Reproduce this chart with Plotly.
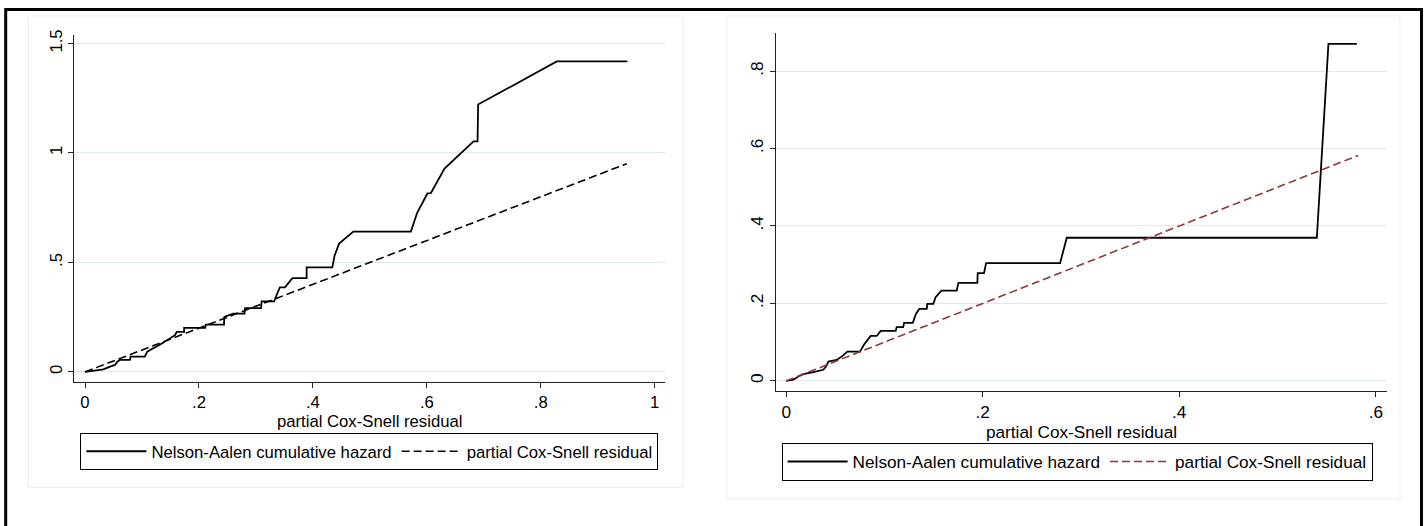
import plotly.graph_objects as go

W, H = 1428, 526

# ---- data ----
na_x_left = [0, 0.0176, 0.0322, 0.0439, 0.0527, 0.0567, 0.0614, 0.079, 0.080, 0.105, 0.109, 0.117,
             0.132, 0.158, 0.161, 0.174, 0.174, 0.211, 0.212, 0.244, 0.2445, 0.260, 0.280, 0.281,
             0.309, 0.310, 0.332, 0.336, 0.342, 0.351, 0.364, 0.389, 0.389, 0.434, 0.438, 0.446,
             0.471, 0.572, 0.583, 0.601, 0.607, 0.631, 0.682, 0.689, 0.690, 0.828, 0.952]
na_y_left = [0, 0.005, 0.012, 0.024, 0.032, 0.047, 0.055, 0.055, 0.070, 0.070, 0.092, 0.104,
             0.125, 0.168, 0.183, 0.183, 0.201, 0.201, 0.216, 0.216, 0.251, 0.266, 0.266, 0.291,
             0.291, 0.322, 0.322, 0.349, 0.386, 0.386, 0.428, 0.428, 0.477, 0.477, 0.531, 0.586,
             0.641, 0.641, 0.727, 0.815, 0.816, 0.929, 1.053, 1.053, 1.221, 1.418, 1.418]
csr_left = [0, 0.951]

na_x_right = [0, 0.0073, 0.0123, 0.0174, 0.0276, 0.0378, 0.0405, 0.043, 0.0514, 0.0565, 0.0622,
              0.0751, 0.0792, 0.086, 0.0921, 0.0962, 0.1114, 0.1124, 0.119, 0.120, 0.1288, 0.132,
              0.1355, 0.143, 0.1436, 0.1497, 0.152, 0.158, 0.1735, 0.1752, 0.1945, 0.1949, 0.2013,
              0.2034, 0.2787, 0.2855, 0.540, 0.5518, 0.5807]
na_y_right = [0, 0.003, 0.0115, 0.0174, 0.0225, 0.0286, 0.037, 0.050, 0.054, 0.0627, 0.0754,
              0.0754, 0.094, 0.116, 0.116, 0.129, 0.129, 0.139, 0.139, 0.150, 0.150, 0.173,
              0.186, 0.186, 0.199, 0.199, 0.216, 0.233, 0.233, 0.253, 0.253, 0.278, 0.278,
              0.304, 0.304, 0.3696, 0.3696, 0.870, 0.870]
csr_right = [0, 0.582]

x_ticks_left = [0, 0.2, 0.4, 0.6, 0.8, 1]
x_text_left = ["0", ".2", ".4", ".6", ".8", "1"]
y_ticks_left = [0, 0.5, 1, 1.5]
y_text_left = ["0", ".5", "1", "1.5"]
x_ticks_right = [0, 0.2, 0.4, 0.6]
x_text_right = ["0", ".2", ".4", ".6"]
y_ticks_right = [0, 0.2, 0.4, 0.6, 0.8]
y_text_right = ["0", ".2", ".4", ".6", ".8"]

name_na = "Nelson-Aalen cumulative hazard"
name_csr = "partial Cox-Snell residual"

FONT = "Arial, Liberation Sans, sans-serif"
MAROON = "#90353B"
GRID = "#dde8ed"
AXC = "#222222"
FS_L = 16.7
FS_R = 17.2


def px(x):
    return x / W


def py(y):
    return 1 - y / H


fig = go.Figure()
fig.add_trace(go.Scatter(x=na_x_left, y=na_y_left, mode="lines", name=name_na,
                         line=dict(color="black", width=1.8), xaxis="x", yaxis="y", legend="legend"))
fig.add_trace(go.Scatter(x=csr_left, y=csr_left, mode="lines", name=name_csr,
                         line=dict(color="black", width=1.6, dash="8px,4px"), xaxis="x", yaxis="y",
                         legend="legend"))
fig.add_trace(go.Scatter(x=na_x_right, y=na_y_right, mode="lines", name=name_na,
                         line=dict(color="black", width=1.8), xaxis="x2", yaxis="y2", legend="legend2"))
fig.add_trace(go.Scatter(x=csr_right, y=csr_right, mode="lines", name=name_csr,
                         line=dict(color=MAROON, width=1.6, dash="8px,4px"), xaxis="x2", yaxis="y2",
                         legend="legend2"))


def xax(fs):
    return dict(showline=True, linecolor=AXC, linewidth=1, ticks="outside", ticklen=5,
                tickcolor=AXC, showgrid=False, zeroline=False, tickfont=dict(size=fs, color="black"),
                title_font=dict(size=fs, color="black"), title_standoff=2)


def yax(fs):
    return dict(showline=True, linecolor=AXC, linewidth=1, ticks="outside", ticklen=5,
                tickcolor=AXC, showgrid=True, gridcolor=GRID, gridwidth=1, zeroline=False,
                tickfont=dict(size=fs, color="black"), tickangle=-90)


def leg(fs):
    return dict(orientation="h", xanchor="left", yanchor="top", bordercolor="black",
                borderwidth=1, bgcolor="white", font=dict(size=fs, color="black"),
                itemwidth=60, tracegroupgap=0)


fig.update_layout(
    width=W, height=H, autosize=False,
    margin=dict(l=0, r=0, t=0, b=0),
    paper_bgcolor="white", plot_bgcolor="white",
    font=dict(family=FONT, color="black"),
    showlegend=True,
    xaxis=dict(domain=[px(74.4), px(665)], range=[-0.0186, 1.018], tickvals=x_ticks_left,
               ticktext=x_text_left, title_text=name_csr, anchor="y", **xax(FS_L)),
    yaxis=dict(domain=[py(380.4), py(30.2)], range=[-0.045, 1.539], tickvals=y_ticks_left,
               ticktext=y_text_left, anchor="x", **yax(FS_L)),
    xaxis2=dict(domain=[px(776), px(1387)], range=[-0.0104, 0.6114], tickvals=x_ticks_right,
                ticktext=x_text_right, title_text=name_csr, anchor="y2", **xax(FS_R)),
    yaxis2=dict(domain=[py(390.2), py(28.5)], range=[-0.0274, 0.8977], tickvals=y_ticks_right,
                ticktext=y_text_right, anchor="x2", **yax(FS_R)),
    legend=dict(x=px(80.4), y=py(432), **leg(FS_L)),
    legend2=dict(x=px(781.6), y=py(442), **leg(FS_R)),
)

# faint panel frames and the outer black frame
shapes = [
    dict(type="rect", xref="paper", yref="paper", x0=px(28.5), x1=px(683), y0=py(487), y1=py(11),
         line=dict(color="#eeeeee", width=1), layer="below"),
    dict(type="rect", xref="paper", yref="paper", x0=px(727), x1=px(1400), y0=py(499), y1=py(11),
         line=dict(color="#eeeeee", width=1), layer="below"),
    dict(type="rect", xref="paper", yref="paper", x0=px(5.7), x1=px(1421.5), y0=py(540), y1=py(4.5),
         line=dict(color="black", width=3)),
]
fig.update_layout(shapes=shapes)

fig.write_html("out.html", config={"displayModeBar": False},
               post_script="document.body.style.margin='0px';document.body.style.overflow='hidden';")
